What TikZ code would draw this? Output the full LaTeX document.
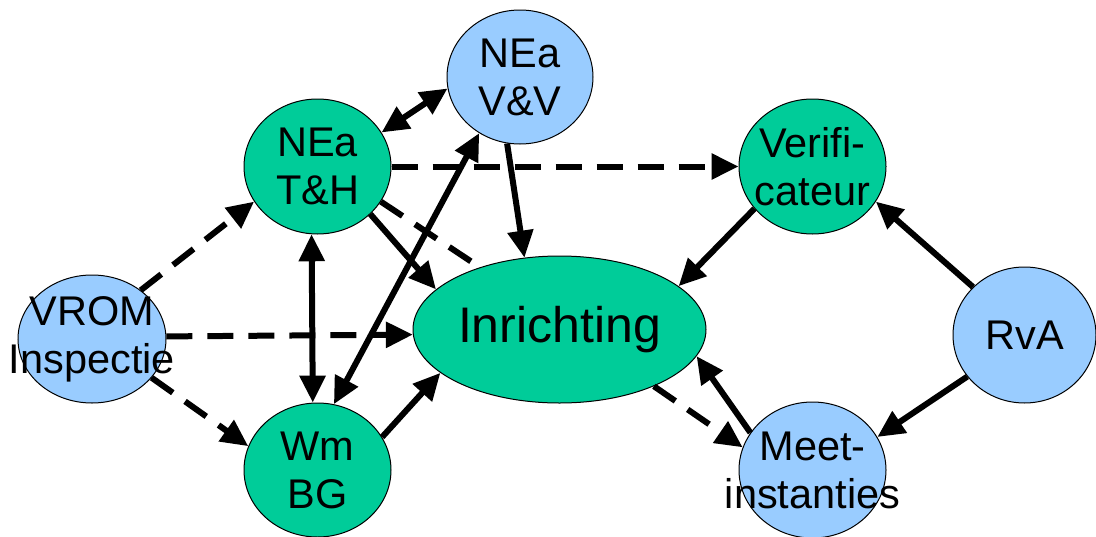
\documentclass[tikz,border=0pt]{standalone}
\usepackage{fontspec}
\setmainfont{Liberation Sans}
\usetikzlibrary{shapes.geometric,arrows.meta}
\definecolor{grn}{RGB}{0,204,153}
\definecolor{blu}{RGB}{153,204,255}
\tikzset{
 bub/.style={ellipse, draw=black, line width=1pt, inner sep=0pt, minimum width=147pt, minimum height=135pt},
 gbub/.style={bub, fill=grn},
 bbub/.style={bub, fill=blu},
 lbl/.style={font=\fontsize{41.5}{48}\selectfont, align=center, inner sep=0pt},
 tip/.tip={Triangle[length=27pt,width=25pt]},
 con/.style={line width=6pt, -tip},
 dcon/.style={con, dash pattern=on 26pt off 15pt},
 dline/.style={line width=6pt, dash pattern=on 26pt off 15pt},
 both/.style={line width=6pt, tip-tip},
}
\begin{document}
\begin{tikzpicture}[x=1pt,y=-1pt]
\useasboundingbox (0,0) rectangle (1096,536);
% nodes
\node[bbub, minimum width=148pt, minimum height=128pt] (vrom) at (92,339) {};
\node[gbub] (th) at (317.5,166.5) {};
\node[bbub, minimum width=146pt, minimum height=134pt] (vv) at (520,77) {};
\node[gbub, minimum width=293pt, minimum height=147pt] (inr) at (559.5,329.5) {};
\node[gbub] (ver) at (812.5,166.5) {};
\node[bbub, minimum width=143pt, minimum height=136pt] (rva) at (1024.5,335) {};
\node[bbub, minimum height=136pt] (meet) at (812.5,470) {};
\node[gbub, minimum height=134pt] (wm) at (317.5,470) {};
% connectors
\draw[dcon] (vrom.45) -- (th.209);
\draw[dcon] (vrom.2) -- (inr.182.5);
\draw[dcon] (vrom.-33) -- (wm.161);
\draw[both] (th.265.3) -- (wm.94.7);
\draw[both] (wm.76.4) -- (vv.234);
\draw[both] (th.28) -- (vv.189);
\draw[dcon] (th.east) -- (ver.west);
\draw[con] (th.-42.6) -- (inr.162.4);
\draw[dline] (th.-29.2) -- (inr.142.3);
\draw[con] (vv.259.7) -- (inr.116);
\draw[con] (ver.216.6) -- (inr.20);
\draw[con] (rva.137.7) -- (ver.-29.2);
\draw[con] (rva.216.8) -- (meet.27.1);
\draw[con] (meet.149.8) -- (inr.-11);
\draw[dcon] (inr.-31.9) -- (meet.162.1);
\draw[con] (wm.27.8) -- (inr.200.4);
% labels
\node[lbl] at (vrom.center) {VROM\\Inspectie};
\node[lbl] at (th.center) {NEa\\T\&H};
\node[lbl] at (vv.center) {NEa\\V\&V};
\node[lbl, font=\fontsize{50}{58}\selectfont] at (inr.center) {Inrichting};
\node[lbl] at (ver.center) {Verifi-\\cateur};
\node[lbl] at (rva.center) {RvA};
\node[lbl] at (meet.center) {Meet-\\instanties};
\node[lbl] at (wm.center) {Wm\\BG};
\end{tikzpicture}
\end{document}
